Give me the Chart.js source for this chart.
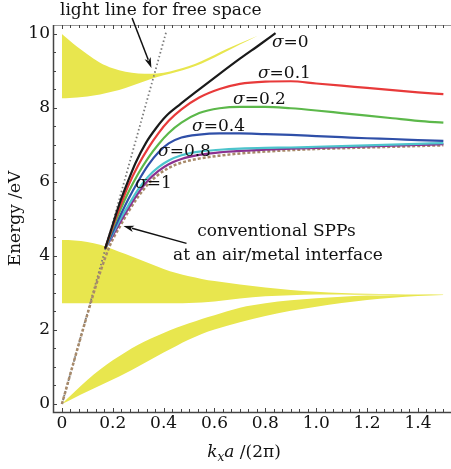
<!DOCTYPE html>
<html>
<head>
<meta charset="utf-8">
<script src="https://cdn.jsdelivr.net/npm/chart.js@4"></script>
<style>
  html, body { margin: 0; padding: 0; background: #fff; }
</style>
</head>
<body>
<canvas id="bandChart" width="451" height="469"></canvas>
<script>
// x axis ticks / labels
const xTickValues = [0, 0.2, 0.4, 0.6, 0.8, 1.0, 1.2, 1.4];
const xTickLabels = ["0", "0.2", "0.4", "0.6", "0.8", "1.0", "1.2", "1.4"];
const yTickValues = [0, 2, 4, 6, 8, 10];
const yTickLabels = ["0", "2", "4", "6", "8", "10"];

// light line for free space
const lightK = [0, 0.41];
const lightE = [0, 10.05];

// sigma = 0 curve (black)
const sigma0K = [0.17, 0.2, 0.23, 0.26, 0.29, 0.33, 0.37, 0.41, 0.46, 0.54, 0.62, 0.7, 0.78, 0.84];
const sigma0E = [4.2, 4.85, 5.48, 6.02, 6.52, 7.05, 7.45, 7.78, 8.07, 8.5, 8.92, 9.33, 9.72, 10.02];

// the other sigma curves share one k grid
const curveK = [0.17, 0.2, 0.23, 0.26, 0.3, 0.34, 0.38, 0.42, 0.47, 0.54, 0.62, 0.7, 0.8, 0.9, 1.0, 1.1, 1.2, 1.3, 1.4, 1.5];
const sigma01E = [4.2, 4.8, 5.35, 5.88, 6.45, 6.92, 7.32, 7.65, 7.96, 8.28, 8.51, 8.65, 8.71, 8.72, 8.66, 8.6, 8.54, 8.48, 8.42, 8.37];
const sigma02E = [4.2, 4.75, 5.25, 5.7, 6.22, 6.66, 7.02, 7.32, 7.6, 7.86, 7.99, 8.03, 8.03, 7.99, 7.93, 7.86, 7.79, 7.72, 7.65, 7.6];
const sigma04E = [4.2, 4.65, 5.1, 5.52, 6.02, 6.46, 6.8, 7.04, 7.2, 7.28, 7.31, 7.31, 7.29, 7.27, 7.24, 7.21, 7.18, 7.16, 7.13, 7.11];
const sigma08E = [4.2, 4.6, 5.0, 5.35, 5.8, 6.15, 6.4, 6.58, 6.72, 6.82, 6.87, 6.9, 6.92, 6.93, 6.95, 6.97, 6.99, 7.01, 7.03, 7.05];
const sigma1E  = [4.2, 4.55, 4.92, 5.27, 5.7, 6.05, 6.3, 6.48, 6.62, 6.73, 6.8, 6.84, 6.87, 6.9, 6.92, 6.94, 6.96, 6.98, 7.0, 7.02];

// conventional SPPs at an air/metal interface (dashed)
const sppK = [0, 0.05, 0.1, 0.15, 0.19, 0.23, 0.26, 0.3, 0.34, 0.38, 0.42, 0.47, 0.54, 0.62, 0.7, 0.8, 0.9, 1.0, 1.1, 1.2, 1.3, 1.4, 1.5];
const sppE = [0, 1.22, 2.42, 3.55, 4.3, 4.82, 5.18, 5.6, 5.95, 6.2, 6.38, 6.52, 6.63, 6.71, 6.77, 6.82, 6.86, 6.89, 6.91, 6.93, 6.95, 6.97, 6.99];

// yellow bands: upper band (8.3 - 10)
const bandAK = [0, 0.03, 0.06, 0.1, 0.15, 0.2, 0.25, 0.3, 0.35, 0.4, 0.45, 0.5, 0.55, 0.6, 0.65, 0.7, 0.77];
const bandATop = [10.0, 9.82, 9.65, 9.45, 9.22, 9.07, 8.98, 8.93, 8.92, 8.95, 9.03, 9.13, 9.27, 9.43, 9.6, 9.75, 9.95];
const bandABot = [8.26, 8.27, 8.28, 8.31, 8.36, 8.44, 8.54, 8.66, 8.78, 8.88, 8.97, 9.07, 9.2, 9.36, 9.54, 9.71, 9.95];

// middle band (2.7 - 4.45)
const bandBK = [0, 0.05, 0.1, 0.15, 0.2, 0.25, 0.3, 0.35, 0.4, 0.45, 0.5, 0.55, 0.6, 0.7, 0.8, 0.9, 1.0, 1.1, 1.2, 1.3, 1.4, 1.5];
const bandBTop = [4.43, 4.42, 4.38, 4.3, 4.18, 4.05, 3.92, 3.78, 3.65, 3.54, 3.45, 3.38, 3.32, 3.23, 3.15, 3.08, 3.03, 3.0, 2.98, 2.97, 2.96, 2.955];
const bandBBot = [2.72, 2.72, 2.72, 2.72, 2.72, 2.72, 2.72, 2.72, 2.72, 2.72, 2.73, 2.74, 2.77, 2.85, 2.91, 2.94, 2.96, 2.96, 2.95, 2.95, 2.945, 2.945];

// lower band (0 - 2.95)
const bandCK = [0, 0.05, 0.1, 0.15, 0.2, 0.25, 0.3, 0.35, 0.4, 0.45, 0.5, 0.55, 0.6, 0.7, 0.8, 0.9, 1.0, 1.1, 1.2, 1.3, 1.4, 1.5];
const bandCTop = [0, 0.33, 0.65, 0.93, 1.18, 1.4, 1.6, 1.77, 1.92, 2.06, 2.18, 2.3, 2.4, 2.6, 2.72, 2.8, 2.86, 2.9, 2.93, 2.94, 2.945, 2.95];
const bandCBot = [0, 0.17, 0.34, 0.5, 0.66, 0.83, 1.01, 1.2, 1.39, 1.57, 1.74, 1.89, 2.01, 2.21, 2.38, 2.52, 2.63, 2.73, 2.81, 2.87, 2.92, 2.945];

function pts(ks, es) {
    return ks.map((k, i) => ({ x: k, y: es[i] }));
}

const bandColor = "rgb(232, 230, 78)";
const serif = "'DejaVu Serif', serif";

function curve(ks, es, color, extra) {
    return Object.assign({
        data: pts(ks, es),
        borderColor: color,
        borderWidth: 2.2,
        pointRadius: 0,
        cubicInterpolationMode: "monotone",
        fill: false
    }, extra || {});
}

function bandEdge(ks, es, fillNext) {
    return {
        data: pts(ks, es),
        borderWidth: 0,
        borderColor: bandColor,
        backgroundColor: bandColor,
        pointRadius: 0,
        cubicInterpolationMode: "monotone",
        fill: fillNext ? "+1" : false
    };
}

// labels and arrows, placed in data units
const sigmaLabels = [
    { text: "=0", k: 0.826, e: 9.76 },
    { text: "=0.1", k: 0.771, e: 8.92 },
    { text: "=0.2", k: 0.673, e: 8.22 },
    { text: "=0.4", k: 0.512, e: 7.49 },
    { text: "=0.8", k: 0.378, e: 6.81 },
    { text: "=1", k: 0.288, e: 5.95 }
];

const framePlugin = {
    id: "frame",
    afterDatasetsDraw(chart) {
        const { ctx, chartArea: a, scales: { x, y } } = chart;
        ctx.save();

        // axes box
        ctx.strokeStyle = "#999";
        ctx.lineWidth = 1;
        ctx.beginPath();
        ctx.moveTo(a.left, a.top + 0.5);
        ctx.lineTo(a.right, a.top + 0.5);
        ctx.stroke();

        ctx.strokeStyle = "#444";
        ctx.lineWidth = 1.5;
        ctx.beginPath();
        ctx.moveTo(a.left + 0.5, a.top);
        ctx.lineTo(a.left + 0.5, a.bottom + 0.5);
        ctx.lineTo(a.right, a.bottom + 0.5);
        ctx.stroke();

        // inward ticks
        ctx.lineWidth = 1;
        ctx.beginPath();
        for (let i = 0; i <= 45; i++) {
            const px = Math.round(x.getPixelForValue(i * 0.2 / 6)) + 0.5;
            const len = i % 6 === 0 ? 4 : 3;
            ctx.moveTo(px, a.bottom);
            ctx.lineTo(px, a.bottom - len);
            ctx.moveTo(px, a.top);
            ctx.lineTo(px, a.top + len);
        }
        for (let i = 0; i <= 20; i++) {
            const py = Math.round(y.getPixelForValue(i * 0.5)) + 0.5;
            const len = i % 4 === 0 ? 4 : 3;
            ctx.moveTo(a.left, py);
            ctx.lineTo(a.left + len, py);
        }
        ctx.stroke();

        // sigma labels
        ctx.fillStyle = "#111";
        ctx.textBaseline = "middle";
        ctx.textAlign = "left";
        sigmaLabels.forEach(l => {
            const px = x.getPixelForValue(l.k);
            const py = y.getPixelForValue(l.e);
            ctx.font = "italic 17px " + serif;
            ctx.fillText("\u03c3", px, py);
            const w = ctx.measureText("\u03c3").width;
            ctx.font = "17px " + serif;
            ctx.fillText(l.text, px + w, py);
        });

        // annotation texts
        ctx.font = "17px " + serif;
        ctx.textBaseline = "alphabetic";
        ctx.fillText("light line for free space", 60, 15);
        ctx.fillText("conventional SPPs", x.getPixelForValue(0.532), y.getPixelForValue(4.55));
        ctx.fillText("at an air/metal interface", x.getPixelForValue(0.437), y.getPixelForValue(3.88));

        // arrows
        drawArrow(ctx, x.getPixelForValue(0.276), 18, x.getPixelForValue(0.352), y.getPixelForValue(9.08));
        drawArrow(ctx, x.getPixelForValue(0.49), y.getPixelForValue(4.34), x.getPixelForValue(0.242), y.getPixelForValue(4.81));

        // axis titles
        ctx.fillStyle = "#111";
        ctx.save();
        ctx.translate(16, (a.top + a.bottom) / 2);
        ctx.rotate(-Math.PI / 2);
        ctx.textAlign = "center";
        ctx.textBaseline = "middle";
        ctx.font = "17px " + serif;
        ctx.fillText("Energy /eV", 0, 0);
        ctx.restore();

        ctx.textAlign = "left";
        ctx.textBaseline = "alphabetic";
        const parts = [
            { t: "k", f: "italic 17px " + serif, dy: 0 },
            { t: "x", f: "italic 12px " + serif, dy: 4 },
            { t: "a", f: "italic 17px " + serif, dy: 0 },
            { t: " /(2\u03c0)", f: "17px " + serif, dy: 0 }
        ];
        let total = 0;
        parts.forEach(p => { ctx.font = p.f; p.w = ctx.measureText(p.t).width; total += p.w; });
        let cx = 244 - total / 2;
        parts.forEach(p => {
            ctx.font = p.f;
            ctx.fillText(p.t, cx, 457 + p.dy);
            cx += p.w;
        });

        ctx.restore();
    }
};

function drawArrow(ctx, x1, y1, x2, y2) {
    const ang = Math.atan2(y2 - y1, x2 - x1);
    const head = 11;
    ctx.strokeStyle = "#111";
    ctx.fillStyle = "#111";
    ctx.lineWidth = 1.5;
    ctx.beginPath();
    ctx.moveTo(x1, y1);
    ctx.lineTo(x2 - Math.cos(ang) * head * 0.8, y2 - Math.sin(ang) * head * 0.8);
    ctx.stroke();
    ctx.beginPath();
    ctx.moveTo(x2, y2);
    ctx.lineTo(x2 - head * Math.cos(ang - 0.3), y2 - head * Math.sin(ang - 0.3));
    ctx.lineTo(x2 - head * 0.7 * Math.cos(ang), y2 - head * 0.7 * Math.sin(ang));
    ctx.lineTo(x2 - head * Math.cos(ang + 0.3), y2 - head * Math.sin(ang + 0.3));
    ctx.closePath();
    ctx.fill();
}

const bandChart = new Chart(document.getElementById("bandChart").getContext("2d"), {
    type: "line",
    data: {
        datasets: [
            curve(sigma0K, sigma0E, "#1a1a1a"),
            curve(curveK, sigma01E, "#e83a3a"),
            curve(curveK, sigma02E, "#5cb84a"),
            curve(curveK, sigma04E, "#2f4fa8"),
            curve(curveK, sigma08E, "#4cc4cc"),
            curve(curveK, sigma1E, "#8a3090"),
            curve(sppK, sppE, "#a88a6a", { borderWidth: 2.5, borderDash: [3, 2] }),
            curve(lightK, lightE, "#7a7a7a", { borderWidth: 1.8, borderDash: [1.5, 2.5], cubicInterpolationMode: "default" }),
            bandEdge(bandAK, bandATop, true),
            bandEdge(bandAK, bandABot, false),
            bandEdge(bandBK, bandBTop, true),
            bandEdge(bandBK, bandBBot, false),
            bandEdge(bandCK, bandCTop, true),
            bandEdge(bandCK, bandCBot, false)
        ]
    },
    options: {
        responsive: false,
        animation: false,
        devicePixelRatio: 1,
        layout: { padding: { top: 25, right: 0, left: 0, bottom: 0 } },
        plugins: {
            legend: { display: false },
            tooltip: { enabled: false }
        },
        scales: {
            x: {
                type: "linear",
                min: -0.035,
                max: 1.53,
                grid: { display: false, drawTicks: false },
                border: { display: false },
                afterBuildTicks: s => { s.ticks = xTickValues.map(v => ({ value: v })); },
                afterFit: s => { s.height = 57; },
                ticks: {
                    autoSkip: false,
                    maxRotation: 0,
                    padding: 1,
                    color: "#111",
                    font: { family: serif, size: 17 },
                    callback: v => xTickLabels[xTickValues.findIndex(t => Math.abs(t - v) < 1e-6)]
                }
            },
            y: {
                min: -0.216,
                max: 10.24,
                grid: { display: false, drawTicks: false },
                border: { display: false },
                afterBuildTicks: s => { s.ticks = yTickValues.map(v => ({ value: v })); },
                afterFit: s => { s.width = 53; },
                ticks: {
                    padding: 3,
                    color: "#111",
                    font: { family: serif, size: 17 },
                    callback: v => yTickLabels[yTickValues.indexOf(v)]
                }
            }
        }
    },
    plugins: [framePlugin]
});
</script>
</body>
</html>
